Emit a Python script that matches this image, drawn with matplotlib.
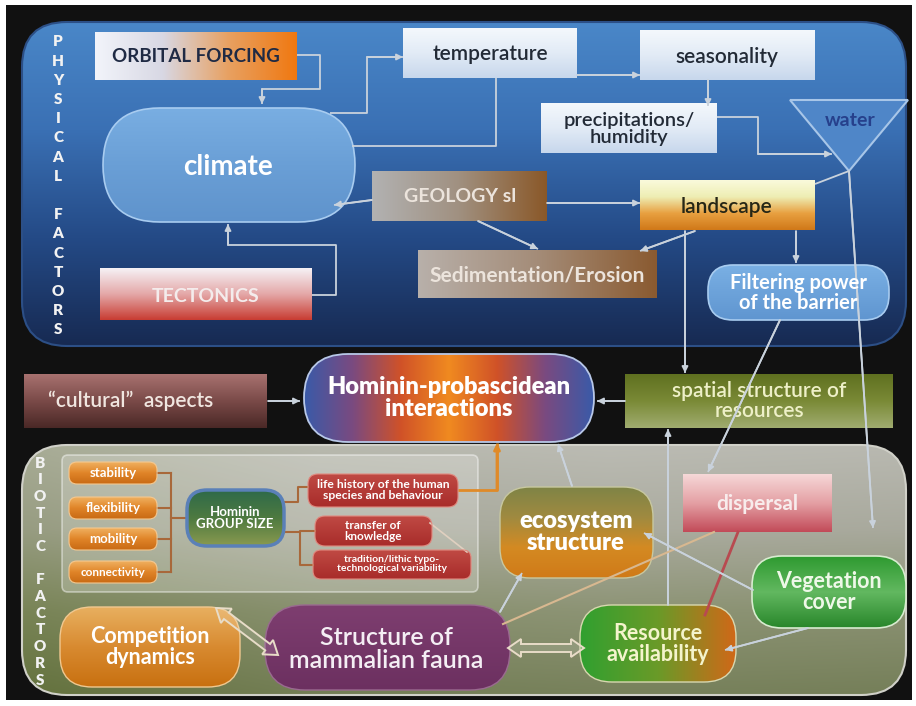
import numpy as np
import matplotlib
matplotlib.use("Agg")
import matplotlib.pyplot as plt
from matplotlib.patches import FancyBboxPatch, Polygon
from matplotlib.colors import to_rgb

plt.rcParams['font.family'] = ['Lato', 'DejaVu Sans']

# ---- texts of the diagram ----
side_labels = ["PHYSICAL FACTORS", "BIOTIC FACTORS"]
physical_labels = ["ORBITAL FORCING", "temperature", "seasonality",
                   "precipitations/\nhumidity", "water", "climate",
                   "GEOLOGY sl", "landscape", "Sedimentation/Erosion",
                   "TECTONICS", "Filtering power\nof the barrier"]
middle_labels = ["\u201ccultural\u201d  aspects", "Hominin-probascidean\ninteractions",
                 "spatial structure of\nresources"]
pill_labels = ["stability", "flexibility", "mobility", "connectivity"]
group_labels = ["Hominin\nGROUP SIZE", "life history of the human\nspecies and behaviour",
                "transfer of\nknowledge", "tradition/lithic typo-\ntechnological variability"]
biotic_labels = ["Competition\ndynamics", "Structure of\nmammalian fauna", "ecosystem\nstructure",
                 "dispersal", "Vegetation\ncover", "Resource\navailability"]

LINE = "#c9d2dc"
BROWN = "#a8683a"

fig = plt.figure(figsize=(9.16, 7.06), dpi=100)
ax = fig.add_axes([0, 0, 1, 1])
ax.set_xlim(0, 916)
ax.set_ylim(706, 0)
ax.axis("off")


def ramp(stops, n=256):
    cols = np.array([to_rgb(c) for c in stops])
    pos = np.linspace(0, 1, len(stops))
    t = np.linspace(0, 1, n)
    return np.stack([np.interp(t, pos, cols[:, i]) for i in range(3)], axis=-1)


def box(x, y, w, h, stops, vertical=True, r=0, ec="none", lw=1.0, z=2, img=None):
    if img is None:
        arr = ramp(stops)
        img = arr[:, None, :].repeat(2, axis=1) if vertical else arr[None, :, :].repeat(2, axis=0)
    style = f"round,pad=0,rounding_size={r}" if r else "square,pad=0"
    p = FancyBboxPatch((x, y), w, h, boxstyle=style, fc="none", ec=ec, lw=lw, zorder=z + 0.1)
    ax.add_patch(p)
    im = ax.imshow(img, extent=[x, x + w, y + h, y], aspect="auto", zorder=z,
                   interpolation="bilinear")
    im.set_clip_path(p)
    return p


def label(x, y, s, size, color="white", weight="bold", z=6, **kw):
    ax.text(x, y, s, ha="center", va="center", fontsize=size, color=color,
            fontweight=weight, zorder=z, linespacing=1.0, **kw)


def link(pts, color=LINE, lw=1.3, head=True, z=4):
    xs, ys = zip(*pts)
    ax.plot(xs, ys, color=color, lw=lw, zorder=z, solid_capstyle="butt")
    if head:
        ax.annotate("", xy=pts[-1], xytext=pts[-2], zorder=z,
                    arrowprops=dict(arrowstyle="-|>", color=color, lw=lw,
                                    mutation_scale=9, shrinkA=0, shrinkB=0))


def double_arrow(p0, p1, half=4, head_w=9, head_len=13, color="#e8dcc8", z=5):
    p0, p1 = np.array(p0, float), np.array(p1, float)
    d = p1 - p0
    L = np.hypot(*d)
    u = d / L
    n = np.array([-u[1], u[0]])
    loc = [(0, 0), (head_len, head_w), (head_len, half), (L - head_len, half),
           (L - head_len, head_w), (L, 0), (L - head_len, -head_w),
           (L - head_len, -half), (head_len, -half), (head_len, -head_w)]
    pts = [p0 + a * u + b * n for a, b in loc]
    ax.add_patch(Polygon(pts, closed=True, fc=(1, 1, 1, 0.12), ec=color, lw=1.4, zorder=z))


# ---- background ----
ax.add_patch(plt.Rectangle((6, 5), 906, 695, fc="#111111", ec="none", zorder=0))

# physical panel
pv = ramp(["#4a87c8", "#3a70b4", "#244a86", "#172a52"])
pimg = pv[:, None, :].repeat(2, axis=1)
box(22, 22, 884, 324, None, r=45, img=pimg, ec="#2c4f86", lw=1.5, z=1)

# biotic panel (2d gradient: vertical + greener at the left)
bv = ramp(["#c0c0b8", "#a9aa9c", "#7d875e", "#5f6d3a"])
bh = ramp(["#6f7d45", "#a3a695", "#b0b0a8", "#a8a8a0"], n=64)
bimg = 0.7 * bv[:, None, :] + 0.3 * bh[None, :, :]
box(22, 445, 884, 250, None, r=45, img=bimg, ec="#d0d0c8", lw=1.5, z=1)

# side letters
for lab, x0, y0, step in [(side_labels[0], 58, 42, 19.2), (side_labels[1], 40, 463, 16.7)]:
    for i, ch in enumerate(lab):
        if ch != " ":
            ax.text(x0, y0 + i * step, ch, ha="center", va="center", fontsize=11,
                    color="#f2f2f2", fontweight="heavy", zorder=3)

# ---- physical factors boxes ----
WB = ["#f4f8fc", "#e2ebf6", "#c7d7ec"]
box(95, 32, 202, 48, ["#f2f4fa", "#d8d8e4", "#e8a060", "#f07810"], vertical=False, z=2)
label(196, 57, physical_labels[0], 13.5, color="#1f2a44")
box(403, 28, 174, 50, WB, z=2)
label(490, 54, physical_labels[1], 15, color="#222a36", weight="semibold")
box(640, 30, 175, 50, WB, z=2)
label(727, 57, physical_labels[2], 15, color="#222a36", weight="semibold")
box(541, 103, 176, 50, WB, z=2)
label(629, 129, physical_labels[3], 14.5, color="#222a36", weight="semibold")

# water triangle
ax.add_patch(Polygon([(790, 100), (908, 100), (849, 171)], closed=True,
                     fc="#4f86c8", ec="#a8c6e8", lw=1.5, zorder=2))
label(850, 120, physical_labels[4], 14, color="#26408c")

# climate
box(103, 108, 252, 114, ["#79aee2", "#6a9fd6", "#5f93cc"], r=57, ec="#a8ccf0", lw=1.2, z=2)
label(228, 167, physical_labels[5], 20)

box(372, 171, 175, 50, ["#b2b2b2", "#a09080", "#8a5828"], vertical=False, z=2)
label(460, 197, physical_labels[6], 14, color="#ece4dc")
box(640, 180, 175, 50, ["#fafadc", "#eeeeb4", "#e8a040", "#d07818"], z=2)
label(727, 207, physical_labels[7], 15, color="#262616", weight="semibold")
box(418, 250, 239, 48, ["#b8b0aa", "#a48c78", "#8a5a30"], vertical=False, z=2)
label(537, 275, physical_labels[8], 15, color="#ece4dc")
box(100, 268, 212, 52, ["#f6f2f6", "#e4a8a8", "#c83c32"], z=2)
label(206, 296, physical_labels[9], 14, color="#f4ecec")
box(708, 265, 181, 55, ["#7ab0e4", "#5f95d0"], r=25, ec="#a8ccf0", lw=1.2, z=2)
label(798, 293, physical_labels[10], 14.5)

# physical links
link([(297, 55), (320, 55), (320, 89), (262, 89), (262, 104)])
link([(330, 113), (367, 113), (367, 57), (403, 57)])
link([(496, 78), (496, 146), (352, 146)], head=False)
link([(577, 75), (640, 75)])
link([(708, 80), (708, 106)])
link([(717, 117), (758, 117), (758, 154), (832, 154)])
link([(815, 184), (849, 171)], head=False)
link([(849, 171), (873, 528)])
link([(372, 200), (334, 205)])
link([(547, 203), (640, 203)])
link([(478, 221), (538, 249)])
link([(695, 231), (640, 251)])
link([(796, 231), (796, 263)])
link([(685, 231), (685, 373)])
link([(312, 295), (336, 295), (336, 245), (228, 245), (228, 224)])
link([(780, 320), (708, 472)], z=7)

# ---- middle row ----
box(24, 374, 243, 54, ["#a87270", "#7a4a48", "#4a2826"], z=2)
label(131, 401, middle_labels[0], 15, color="#f0e6e0", weight="semibold")
hv = ramp(["#3a5aa8", "#7a4a80", "#d05228", "#f08a20", "#d05228", "#7a4a80", "#3a5aa8"])
box(304, 354, 290, 88, None, r=44, img=hv[None, :, :].repeat(2, axis=0),
    ec="#b8c8e8", lw=1.3, z=2)
label(449, 398, middle_labels[1], 17, weight="heavy")
box(625, 374, 268, 54, ["#5f7020", "#7a8a36", "#a0ac70"], z=2)
label(759, 401, middle_labels[2], 15, color="#eef0c8", weight="semibold")
link([(268, 401), (300, 401)])
link([(625, 401), (597, 401)])

# ---- biotic factors ----
p_in = FancyBboxPatch((62, 455), 416, 137, boxstyle="round,pad=0,rounding_size=6",
                      fc=(1, 1, 1, 0.22), ec=(1, 1, 1, 0.45), lw=1.2, zorder=2)
ax.add_patch(p_in)

pill_y = [473, 508, 539, 572]
for lab, yc in zip(pill_labels, pill_y):
    box(69, yc - 11, 88, 22, ["#f0b060", "#e08428", "#c86a14"], r=8, ec="#f4c890", lw=0.8, z=3)
    label(113, yc, lab, 9.5 if lab != "connectivity" else 8.5, z=6)
    ax.plot([157, 171], [yc, yc], color=BROWN, lw=1.5, zorder=3)
ax.plot([171, 171], [pill_y[0], pill_y[-1]], color=BROWN, lw=1.5, zorder=3)
ax.plot([171, 187], [518, 518], color=BROWN, lw=1.5, zorder=3)

box(187, 490, 97, 56, ["#2e6a4a", "#4e7a40", "#8a9a50"], r=20, ec="#5a80b8", lw=2.5, z=3)
label(235, 518, group_labels[0], 9.5, z=6)

box(308, 474, 150, 33, ["#c04a44", "#a82c2a"], r=10, ec="#e08a80", lw=0.8, z=3)
label(383, 490, group_labels[1], 8.7, z=6)
box(315, 516, 117, 30, ["#c04a44", "#a82c2a"], r=10, ec="#e08a80", lw=0.8, z=3)
label(373, 531, group_labels[2], 8.5, z=6)
box(313, 550, 158, 29, ["#c04a44", "#a82c2a"], r=8, ec="#e08a80", lw=0.8, z=3)
label(392, 564, group_labels[3], 7.5, z=6)
ax.plot([284, 298, 298, 308], [502, 502, 487, 487], color=BROWN, lw=1.5, zorder=3)
ax.plot([284, 300, 300, 315], [532, 532, 531, 531], color=BROWN, lw=1.5, zorder=3)
ax.plot([300, 300, 313], [532, 565, 565], color=BROWN, lw=1.5, zorder=3)
ax.plot([430, 467], [523, 552], color="#e0d0c0", lw=1.2, zorder=3)
link([(458, 490), (497, 490), (497, 443)], color="#e08a28", lw=2.0)

# lower boxes
box(60, 607, 180, 80, ["#e8b060", "#d88a30", "#c87010"], r=32, ec="#f0c890", lw=1, z=3)
label(150, 647, biotic_labels[0], 15.5)
box(265, 605, 245, 85, ["#7e3e70", "#6c3060"], r=40, ec="#9a6a90", lw=1, z=3)
label(386, 649, biotic_labels[1], 18, color="#f4eef4", weight="semibold")
box(500, 487, 153, 91, ["#7f8446", "#a08a40", "#d48a22", "#d07a18"], r=30, ec="#c8c8a0", lw=1, z=3)
label(576, 532, biotic_labels[2], 17, weight="heavy")
box(683, 474, 149, 58, ["#f6d8d8", "#e4a0a4", "#c24a58"], z=3)
label(757, 504, biotic_labels[3], 15, color="#f8ecec")
box(752, 556, 154, 72, ["#2e9a30", "#62b860", "#28862a"], r=30, ec="#d8ecd0", lw=1.2, z=3)
label(829, 592, biotic_labels[4], 15.5, color="#eef8e8")
box(580, 605, 156, 77, ["#30a030", "#6a9a28", "#d06818"], vertical=False, r=32,
    ec="#d8d8b0", lw=1, z=3)
label(658, 644, biotic_labels[5], 15.5, color="#f4f4cc")

# biotic links
link([(668, 605), (668, 429)])
link([(572, 486), (558, 444)])
link([(500, 612), (522, 573)])
ax.plot([503, 714], [624, 532], color="#d8b890", lw=1.5, zorder=4)
ax.plot([738, 705], [532, 615], color="#b84a50", lw=2.0, zorder=4)
link([(753, 590), (644, 533)])
link([(808, 628), (725, 650)])
double_arrow((508, 648), (584, 648))
double_arrow((216, 608), (278, 655))

fig.savefig("out.png", dpi=100)
